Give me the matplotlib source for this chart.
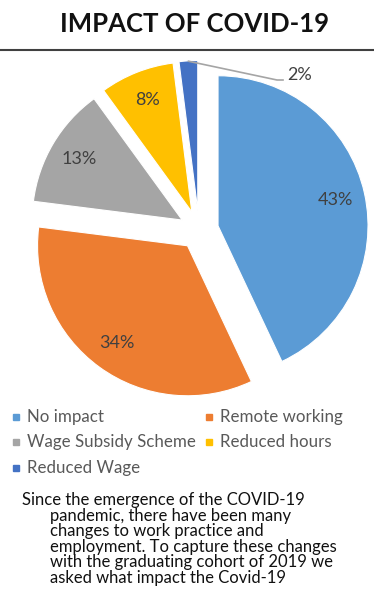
import matplotlib.pyplot as plt
from matplotlib.patches import Rectangle
from matplotlib.lines import Line2D

plt.rcParams['font.family'] = ['Lato', 'DejaVu Sans']

# Impact of Covid-19 on the 2019 graduating cohort
categories = ['No impact', 'Remote working', 'Wage Subsidy Scheme',
              'Reduced hours', 'Reduced Wage']
shares = [43, 34, 13, 8, 2]
colors = ['#5B9BD5', '#ED7D31', '#A5A5A5', '#FFC000', '#4472C4']

title = 'IMPACT OF COVID-19'
note_lines = [
    'Since the emergence of the COVID-19',
    'pandemic, there have been many',
    'changes to work practice and',
    'employment. To capture these changes',
    'with the graduating cohort of 2019 we',
    'asked what impact the Covid-19',
]

W, H = 374, 601
fig = plt.figure(figsize=(W / 100, H / 100), dpi=100)

# axes spans the whole figure, one data unit = pie radius (150 px)
r_px = 150
cx, cy = 199, 230
ax = fig.add_axes([0, 0, 1, 1])

wedges, texts, autotexts = ax.pie(
    shares, colors=colors, startangle=90, counterclock=False,
    explode=[0.13] * len(shares), radius=1,
    autopct='%d%%', pctdistance=0.8,
    wedgeprops=dict(edgecolor='white', linewidth=0.8),
    textprops=dict(color='#404040', fontsize=13))

ax.set_xlim(-cx / r_px, (W - cx) / r_px)
ax.set_ylim(-(H - cy) / r_px, cy / r_px)
ax.set_aspect('auto')
ax.axis('off')

# the smallest slice gets its label outside with a leader line
small = autotexts[-1]
small.set_position((0.67, 1.03))
ax.add_line(Line2D([-0.07, 0.52, 0.56], [1.125, 1.0, 1.0],
                   color='#A5A5A5', lw=1.2))

fig.text(0.52, 1 - 24 / H, title, ha='center', va='center',
         fontsize=18.5, fontweight='bold', color='#111111')
fig.add_artist(Line2D([0, 1], [1 - 50 / H, 1 - 50 / H],
                      transform=fig.transFigure, color='#404040', lw=1.5))

# legend laid out row by row, two per row
leg_x = [16, 209]
leg_y = [417, 442, 468]
for i, (name, c) in enumerate(zip(categories, colors)):
    x = leg_x[i % 2]
    y = leg_y[i // 2]
    fig.add_artist(Rectangle(((x - 3) / W, 1 - (y + 3) / H), 6 / W, 6 / H,
                             transform=fig.transFigure, color=c))
    fig.text((x + 11) / W, 1 - y / H, name, ha='left', va='center',
             fontsize=12.2, color='#595959')

for i, line in enumerate(note_lines):
    x = 22 if i == 0 else 50
    y = 500 + i * 15.6
    fig.text(x / W, 1 - y / H, line, ha='left', va='center',
             fontsize=12, color='#111111')

fig.savefig('out.png', dpi=100)
